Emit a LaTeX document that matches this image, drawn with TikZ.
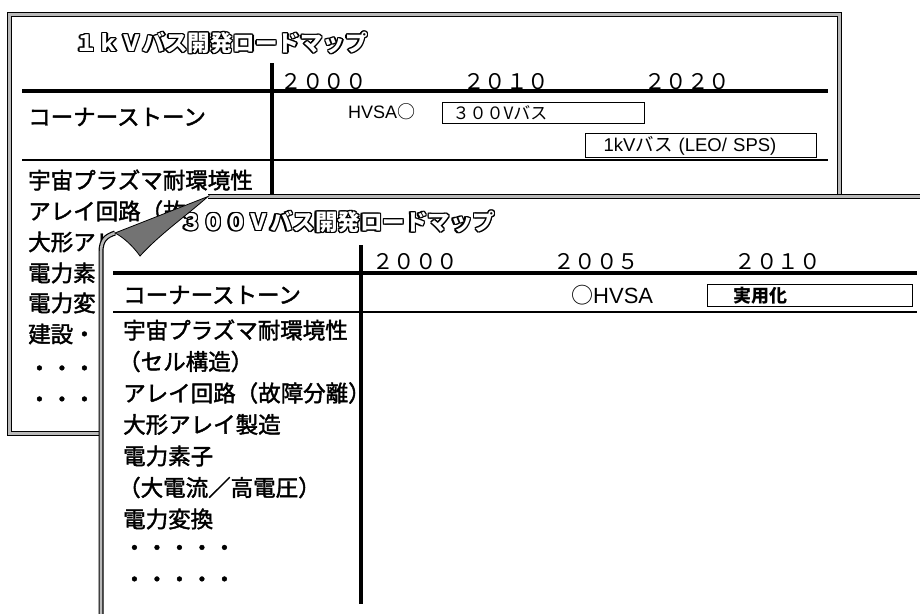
\documentclass[tikz,border=0pt]{standalone}
\usepackage{fontspec}
\setmainfont{Noto Sans CJK JP}
\newfontfamily\lat{Liberation Sans}
\newcommand{\heavier}[1]{\special{pdf:literal direct 2 Tr 0.4 w}#1\special{pdf:literal direct 0 Tr}}
\begin{document}
\begin{tikzpicture}[x=1pt,y=-1pt,
  pborder/.style={draw=black, line width=1.2pt, double=gray!55, double distance=2.6pt},
  lbl/.style={anchor=west, inner sep=0pt, font=\fontsize{22.5}{26}\selectfont},
  yr/.style={anchor=base, inner sep=0pt, font=\fontsize{21.5}{24}\selectfont},
  ttl/.style={inner sep=0pt, font=\fontsize{22.5}{26}\selectfont\bfseries},
  thickrule/.style={line width=4.5pt},
  thinrule/.style={line width=1.5pt},
  bx/.style={draw, line width=1.3pt, anchor=north west, inner ysep=0pt, align=left}
]
\useasboundingbox (0,0) rectangle (920,613);
\fill[white] (0,0) rectangle (920,613);

% ---------------- back panel ----------------
\node[pborder, fill=white, minimum width=830pt, minimum height=419pt, anchor=north west, inner sep=0pt] (backpanel) at (9,14) {};

\coordinate (bt) at (221.5,43);
\foreach \a in {0,30,...,330}
  \node[ttl,text=black] (btc\a) at ([shift={(\a:1.4)}]bt) {１ｋＶバス開発ロードマップ};
\node[ttl,text=white] (btitle) at (bt) {１ｋＶバス開発ロードマップ};

\coordinate (bvT) at (272,63);
\coordinate (bvB) at (272,205);
\coordinate (bhL) at (22,91);
\coordinate (bhR) at (828,91);
\coordinate (btL) at (22,160);
\coordinate (btR) at (828,160);
\draw[thickrule] (bvT) -- (bvB);
\draw[thickrule] (bhL) -- (bhR);
\draw[thinrule] (btL) -- (btR);

\node[yr] (by1) at (323.5,89) {２０００};
\node[yr] (by2) at (506,89) {２０１０};
\node[yr] (by3) at (687,89) {２０２０};

\node[lbl] (bl1) at (28,117) {\heavier{コーナーストーン}};
\node[anchor=west, inner sep=0pt, font=\fontsize{18}{20}\selectfont] (bhvsa) at (348,112) {{\lat HVSA}○};
\node[bx, text width=182pt, inner xsep=10pt, minimum height=21pt, font=\fontsize{17}{19}\selectfont] (b300) at (442,102) {３００Vバス};
\node[bx, text width=195pt, inner xsep=18pt, minimum height=24pt, font=\fontsize{18.5}{20}\selectfont] (b1kv) at (585,133) {{\lat 1kV}バス{\lat\ (LEO/ SPS)}};

\node[lbl] (bl2) at (28,180) {\heavier{宇宙プラズマ耐環境性}};
\node[lbl] (bl3) at (28,211) {\heavier{アレイ回路（故}};
\node[lbl] (bl4) at (28,242) {\heavier{大形アレ}};
\node[lbl] (bl5) at (28,273) {\heavier{電力素}};
\node[lbl] (bl6) at (28,303) {\heavier{電力変}};
\node[lbl] (bl7) at (28,334) {\heavier{建設・}};
\node[lbl] (bl8) at (28,371) {\heavier{・・・}};
\node[lbl] (bl9) at (28,402) {\heavier{・・・}};

% ---------------- front panel ----------------
\coordinate (fA) at (115,233);
\coordinate (fB) at (208,196.5);
\coordinate (fC) at (140,256);
\coordinate (fL) at (101,640);
\coordinate (fK) at (101,252);
\coordinate (fR) at (940,196.5);
\fill[white] (fL) -- (fK) .. controls (101,240) and (106,236) .. (fA) -- (fB) -- (fR) -- (940,640) -- cycle;
\draw[pborder] (fL) -- (fK) .. controls (101,240) and (106,236) .. (fA);
\draw[pborder] (fB) -- (fR);

\coordinate (ft) at (337.5,222);
\foreach \a in {0,30,...,330}
  \node[ttl,text=black] (ftc\a) at ([shift={(\a:1.4)}]ft) {３００Ｖバス開発ロードマップ};
\node[ttl,text=white] (ftitle) at (ft) {３００Ｖバス開発ロードマップ};

% page curl
\draw[fill=black!55, line width=0.8pt] (fA) -- (fB) .. controls (186,216) and (160,234) .. (fC) .. controls (133,246) and (123,237) .. (fA) -- cycle;

\coordinate (fvT) at (361,245);
\coordinate (fvB) at (361,604);
\coordinate (fhL) at (113,273);
\coordinate (fhR) at (917,273);
\coordinate (ftL) at (113,312);
\coordinate (ftR) at (917,312);
\draw[thickrule] (fvT) -- (fvB);
\draw[thickrule] (fhL) -- (fhR);
\draw[thinrule] (ftL) -- (ftR);

\node[yr] (fy1) at (415,269) {２０００};
\node[yr] (fy2) at (596,269) {２００５};
\node[yr] (fy3) at (777.5,269) {２０１０};

\node[lbl] (fl1) at (123,295) {\heavier{コーナーストーン}};
\node[anchor=west, inner sep=0pt, font=\fontsize{22}{24}\selectfont] (fhvsa) at (571,295) {○{\lat HVSA}};
\node[bx, text width=153pt, inner xsep=26pt, minimum height=22pt, font=\fontsize{18}{20}\selectfont\bfseries] (fjy) at (707,284) {実用化};

\node[lbl] (fl2) at (123,330) {\heavier{宇宙プラズマ耐環境性}};
\node[lbl] (fl3) at (118,361.5) {\heavier{（セル構造）}};
\node[lbl] (fl4) at (123,393) {\heavier{アレイ回路（故障分離）}};
\node[lbl] (fl5) at (123,424.5) {\heavier{大形アレイ製造}};
\node[lbl] (fl6) at (123,456) {\heavier{電力素子}};
\node[lbl] (fl7) at (118,487.5) {\heavier{（大電流／高電圧）}};
\node[lbl] (fl8) at (123,519) {\heavier{電力変換}};
\node[lbl] (fl9) at (123,550.5) {\heavier{・・・・・}};
\node[lbl] (fl10) at (123,582) {\heavier{・・・・・}};
\end{tikzpicture}
\end{document}
